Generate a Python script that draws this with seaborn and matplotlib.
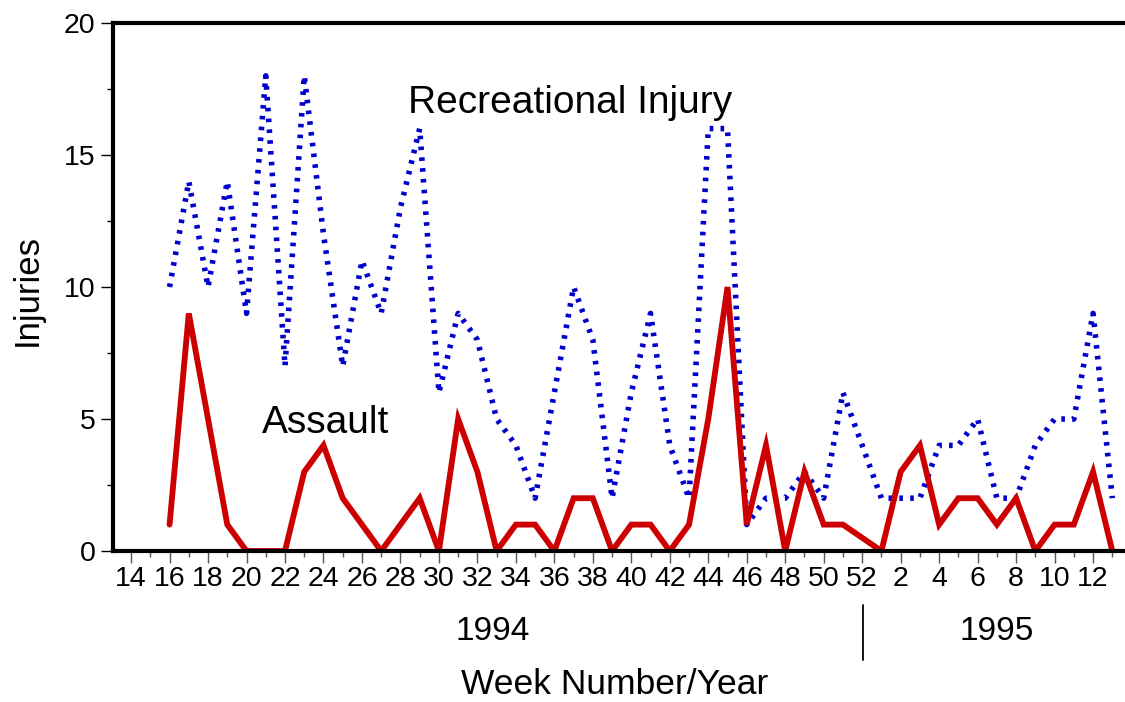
import numpy as np
import pandas as pd
import seaborn as sns
import matplotlib.pyplot as plt
import matplotlib.transforms as mtransforms
from matplotlib.ticker import FixedLocator, MultipleLocator

# weeks with data (1995 weeks are placed after week 52 of 1994)
weeks_1994 = [16, 17, 18, 19, 20, 21, 22, 23, 24, 25, 26, 27, 28, 29, 30, 31, 32, 33,
              34, 35, 36, 37, 38, 39, 40, 41, 42, 43, 44, 45, 46, 47, 48, 49, 50, 51]
weeks_1995 = [1, 2, 3, 4, 5, 6, 7, 8, 9, 10, 11, 12, 13]

assault = [1, 9, 5, 1, 0, 0, 0, 3, 4, 2, 1, 0, 1, 2, 0, 5, 3, 0,
           1, 1, 0, 2, 2, 0, 1, 1, 0, 1, 5, 10, 1, 4, 0, 3, 1, 1,
           0, 3, 4, 1, 2, 2, 1, 2, 0, 1, 1, 3, 0]
recreational = [10, 14, 10, 14, 9, 18, 7, 18, 12, 7, 11, 9, 13, 16, 6, 9, 8, 5,
                4, 2, 6, 10, 8, 2, 6, 9, 4, 2, 16, 16, 1, 2, 2, 3, 2, 6,
                2, 2, 2, 4, 4, 5, 2, 2, 4, 5, 5, 9, 2]

tick_weeks = [14, 16, 18, 20, 22, 24, 26, 28, 30, 32, 34, 36, 38, 40, 42, 44, 46, 48,
              50, 52, 54, 56, 58, 60, 62, 64]
tick_labels = ["14", "16", "18", "20", "22", "24", "26", "28", "30", "32", "34", "36",
               "38", "40", "42", "44", "46", "48", "50", "52", "2", "4", "6", "8",
               "10", "12"]

pos = weeks_1994 + [52 + w for w in weeks_1995]
df = pd.DataFrame({"pos": pos, "assault": assault, "recreational": recreational})

sns.set_style("ticks")
plt.rcParams['font.family'] = ['Liberation Sans', 'DejaVu Sans']
plt.rcParams['text.color'] = 'black'
plt.rcParams['xtick.color'] = 'black'
plt.rcParams['ytick.color'] = 'black'
plt.rcParams['axes.labelcolor'] = 'black'

fig = plt.figure(figsize=(11.25, 7.02), dpi=100)
ax = fig.add_axes([113 / 1125, 1 - 551 / 702, 1 - 113 / 1125, (551 - 23) / 702])

sns.lineplot(data=df, x="pos", y="recreational", ax=ax, color="#0000CC",
             linewidth=4.0, linestyle=(0, (0.65, 1.3)), dash_capstyle="butt")
sns.lineplot(data=df, x="pos", y="assault", ax=ax, color="#CC0000",
             linewidth=4.2, solid_joinstyle="miter")

ax.set_xlim(13.06, 65.66)
ax.set_ylim(0, 20)

ax.xaxis.set_major_locator(FixedLocator(tick_weeks))
ax.set_xticklabels(tick_labels)
ax.xaxis.set_minor_locator(MultipleLocator(1))
ax.yaxis.set_major_locator(MultipleLocator(5))
ax.yaxis.set_minor_locator(MultipleLocator(2.5))

ax.tick_params(axis="both", which="major", labelsize=20.5, length=8.5, width=1,
               direction="out", pad=2, labelcolor="black")
ax.tick_params(axis="both", which="minor", length=4.5, width=1, direction="out")
ax.tick_params(axis="x", which="both", color="#555555")
ax.tick_params(axis="y", which="both", color="black", pad=4)

for side in ["left", "bottom", "top"]:
    ax.spines[side].set_linewidth(3)
    ax.spines[side].set_color("black")
ax.spines["right"].set_visible(False)

ax.set_xlabel("")
ax.set_ylabel("")

ax.text(28.4, 16.6, "Recreational Injury", fontsize=28, ha="left", va="baseline")
ax.text(20.8, 4.47, "Assault", fontsize=28, ha="left", va="baseline")

trans = mtransforms.blended_transform_factory(ax.transData, ax.transAxes)
ax.text(32.8, -0.153, "1994", fontsize=24, ha="center", va="center", transform=trans)
ax.text(59.0, -0.153, "1995", fontsize=24, ha="center", va="center", transform=trans)
ax.plot([52.05, 52.05], [-0.102, -0.206], color="black", linewidth=1.3,
        transform=trans, clip_on=False)

fig.text(615 / 1125, 1 - 684 / 702, "Week Number/Year", fontsize=25.5,
         ha="center", va="center")
fig.text(27 / 1125, 1 - 290 / 702, "Injuries", fontsize=25, rotation=90,
         ha="center", va="center")

fig.savefig("out.png", dpi=100)
